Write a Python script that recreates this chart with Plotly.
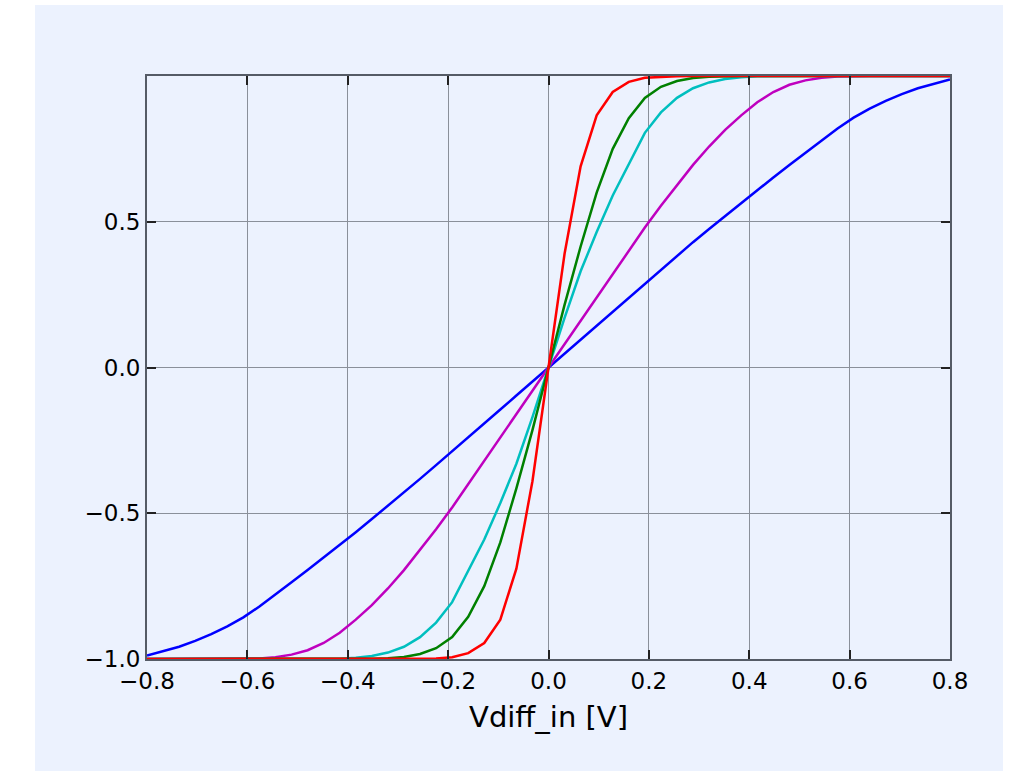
import plotly.graph_objects as go

# Sample grid (V)
X = [-0.8, -0.768, -0.736, -0.704, -0.672, -0.64, -0.608, -0.576, -0.544, -0.512,
     -0.48, -0.448, -0.416, -0.384, -0.352, -0.32, -0.288, -0.256, -0.224, -0.192,
     -0.16, -0.128, -0.096, -0.064, -0.032, 0.0, 0.032, 0.064, 0.096, 0.128,
     0.16, 0.192, 0.224, 0.256, 0.288, 0.32, 0.352, 0.384, 0.416, 0.448,
     0.48, 0.512, 0.544, 0.576, 0.608, 0.64, 0.672, 0.704, 0.736, 0.768, 0.8]

BLUE = [-0.988, -0.974, -0.958, -0.938, -0.915, -0.888, -0.857, -0.82, -0.78, -0.737,
        -0.695, -0.652, -0.61, -0.565, -0.52, -0.475, -0.43, -0.382, -0.335, -0.288,
        -0.24, -0.192, -0.144, -0.096, -0.048, 0.0, 0.048, 0.096, 0.144, 0.192,
        0.24, 0.288, 0.335, 0.382, 0.43, 0.475, 0.52, 0.565, 0.61, 0.652,
        0.695, 0.737, 0.78, 0.82, 0.857, 0.888, 0.915, 0.938, 0.958, 0.974, 0.988]

MAGENTA = [-1.0, -1.0, -1.0, -1.0, -1.0, -1.0, -1.0, -0.998, -0.994, -0.985,
           -0.97, -0.945, -0.91, -0.865, -0.815, -0.758, -0.695, -0.627, -0.555, -0.48,
           -0.40, -0.32, -0.24, -0.16, -0.08, 0.0, 0.08, 0.16, 0.24, 0.32,
           0.40, 0.48, 0.555, 0.627, 0.695, 0.758, 0.815, 0.865, 0.91, 0.945,
           0.97, 0.985, 0.994, 0.998, 1.0, 1.0, 1.0, 1.0, 1.0, 1.0, 1.0]

CYAN = [-1.0, -1.0, -1.0, -1.0, -1.0, -1.0, -1.0, -1.0, -1.0, -1.0,
        -1.0, -1.0, -0.999, -0.996, -0.99, -0.978, -0.958, -0.925, -0.875, -0.805,
        -0.70, -0.59, -0.465, -0.33, -0.17, 0.0, 0.17, 0.33, 0.465, 0.59,
        0.70, 0.805, 0.875, 0.925, 0.958, 0.978, 0.99, 0.996, 0.999, 1.0,
        1.0, 1.0, 1.0, 1.0, 1.0, 1.0, 1.0, 1.0, 1.0, 1.0, 1.0]

GREEN = [-1.0, -1.0, -1.0, -1.0, -1.0, -1.0, -1.0, -1.0, -1.0, -1.0,
         -1.0, -1.0, -1.0, -1.0, -0.999, -0.997, -0.993, -0.983, -0.963, -0.925,
         -0.855, -0.75, -0.60, -0.415, -0.215, 0.0, 0.215, 0.415, 0.60, 0.75,
         0.855, 0.925, 0.963, 0.983, 0.993, 0.997, 0.999, 1.0, 1.0, 1.0,
         1.0, 1.0, 1.0, 1.0, 1.0, 1.0, 1.0, 1.0, 1.0, 1.0, 1.0]

RED = [-1.0, -1.0, -1.0, -1.0, -1.0, -1.0, -1.0, -1.0, -1.0, -1.0,
       -1.0, -1.0, -1.0, -1.0, -1.0, -1.0, -1.0, -0.9995, -0.998, -0.994,
       -0.98, -0.945, -0.865, -0.69, -0.39, 0.0, 0.39, 0.69, 0.865, 0.945,
       0.98, 0.994, 0.998, 0.9995, 1.0, 1.0, 1.0, 1.0, 1.0, 1.0,
       1.0, 1.0, 1.0, 1.0, 1.0, 1.0, 1.0, 1.0, 1.0, 1.0, 1.0]

SERIES = [("b", BLUE, "#0000FF"), ("m", MAGENTA, "#BF00BF"), ("c", CYAN, "#00BFBF"),
          ("g", GREEN, "#008000"), ("r", RED, "#FF0000")]

X_TICKS = [-0.8, -0.6, -0.4, -0.2, 0.0, 0.2, 0.4, 0.6, 0.8]
X_TICK_TEXT = ["\u22120.8", "\u22120.6", "\u22120.4", "\u22120.2", "0.0", "0.2", "0.4", "0.6", "0.8"]
Y_TICKS = [-1.0, -0.5, 0.0, 0.5]
Y_TICK_TEXT = ["\u22121.0", "\u22120.5", "0.0", "0.5"]

BG = "#ECF2FE"

fig = go.Figure()
for name, ys, col in SERIES:
    fig.add_trace(go.Scatter(x=X, y=ys, mode="lines", name=name,
                             line=dict(color=col, width=2.5), showlegend=False))

L, R, T, B = 147, 69, 76, 112
W, H = 1019, 771
pw, ph = W - L - R, H - T - B

fig.add_shape(type="rect", xref="paper", yref="paper",
              x0=(35 - L) / pw, x1=(1003 - L) / pw,
              y0=(H - B - 771) / ph, y1=(H - B - 5) / ph,
              fillcolor=BG, line=dict(width=0), layer="below")

axis_common = dict(
    showgrid=True, gridcolor="#8A909A", gridwidth=1.4,
    showline=True, linecolor="#555B66", linewidth=2, mirror="allticks",
    ticks="inside", ticklen=9, tickwidth=1.6, tickcolor="#222222",
    zeroline=False,
    tickfont=dict(family="DejaVu Sans", size=23, color="#000000"),
)

fig.update_xaxes(range=[-0.8, 0.8], tickvals=X_TICKS, ticktext=X_TICK_TEXT,
                 title=dict(text="Vdiff_in [V]", font=dict(family="DejaVu Sans", size=29, color="#000000"),
                            standoff=14),
                 **axis_common)
fig.update_yaxes(range=[-1.0, 1.0], tickvals=Y_TICKS, ticktext=Y_TICK_TEXT, **axis_common)

fig.update_layout(width=W, height=H, margin=dict(l=L, r=R, t=T, b=B, pad=0),
                  paper_bgcolor="#FFFFFF", plot_bgcolor=BG,
                  font=dict(family="DejaVu Sans"))

fig.write_html("out.html")
